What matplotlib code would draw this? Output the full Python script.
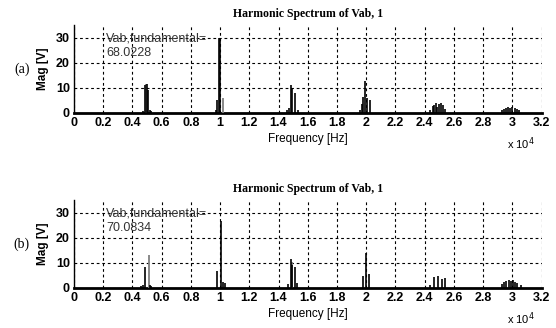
import numpy as np
import matplotlib.pyplot as plt

# harmonic spectrum, frequencies in Hz, magnitudes in V
freq_a = [4700, 4880, 5000, 5100, 5200, 5300, 9700, 9800, 9940, 10000,
          14600, 14700, 14840, 14950, 15110, 15300,
          19600, 19700, 19790, 19950, 20060, 20250,
          24400, 24550, 24650, 24750, 24850, 24950, 25100, 25250, 25400,
          29300, 29450, 29550, 29700, 29850, 30000, 30150, 30300, 30460]
mag_a = [0.6, 11.0, 11.5, 9.2, 1.0, 0.8, 1.0, 5.2, 29.9, 29.5,
         1.2, 1.8, 11.2, 9.9, 8.1, 1.0,
         1.2, 3.5, 6.5, 12.8, 6.0, 5.2,
         1.0, 2.8, 3.2, 3.8, 2.4, 3.5, 4.0, 3.0, 1.5,
         1.0, 1.6, 2.0, 2.4, 1.8, 2.2, 2.0, 1.5, 1.0]
grey_freq_a = [4950, 10210]
grey_mag_a = [11.6, 6.1]

freq_b = [4600, 4700, 4880, 5200, 5300, 9800, 10030, 10170, 10330,
          14660, 14840, 14950, 15110, 15270,
          19750, 19970, 20200,
          24400, 24650, 24930, 25220, 25400,
          29300, 29450, 29600, 29750, 29900, 30050, 30200, 30350, 30600]
mag_b = [0.8, 1.0, 8.5, 1.2, 0.8, 6.8, 26.9, 2.5, 2.0,
         1.5, 11.5, 9.2, 8.5, 2.0,
         4.9, 13.9, 5.6,
         1.2, 4.3, 4.9, 3.6, 4.0,
         1.5, 2.3, 2.6, 3.0, 2.8, 3.2, 2.4, 2.0, 1.2]
grey_freq_b = [5110, 14900]
grey_mag_b = [13.2, 10.5]

fundamental = ["68.0228", "70.0834"]
panel_tags = ["(a)", "(b)"]
xticks = [0, 0.2, 0.4, 0.6, 0.8, 1, 1.2, 1.4, 1.6, 1.8, 2, 2.2, 2.4, 2.6, 2.8, 3, 3.2]
xtick_labels = ["0", "0.2", "0.4", "0.6", "0.8", "1", "1.2", "1.4", "1.6", "1.8",
                "2", "2.2", "2.4", "2.6", "2.8", "3", "3.2"]
yticks = [0, 10, 20, 30]

fig = plt.figure(figsize=(5.56, 3.28), dpi=100)
plt.rcParams['font.family'] = ['Liberation Sans', 'DejaVu Sans']

panels = [(freq_a, mag_a, grey_freq_a, grey_mag_a, 0.6555),
          (freq_b, mag_b, grey_freq_b, grey_mag_b, 0.122)]

for i, (f, m, gf, gm, bottom) in enumerate(panels):
    ax = fig.add_axes([0.133, bottom, 0.841, 0.2668])
    ax.vlines(np.array(gf) / 1e4, 0, gm, color='#808080', lw=1.3, zorder=3)
    ax.vlines(np.array(f) / 1e4, 0, m, color='black', lw=1.2, zorder=4)
    ax.set_xlim(0, 3.2)
    ax.set_ylim(0, 35)
    ax.set_xticks(xticks)
    ax.set_xticklabels(xtick_labels)
    ax.set_yticks(yticks)
    ax.grid(True, color='black', linestyle=(0, (2.5, 2.5)), lw=0.8)
    ax.set_axisbelow(True)
    for s in ['top', 'right']:
        ax.spines[s].set_visible(False)
    ax.spines['bottom'].set_linewidth(2)
    ax.spines['left'].set_linewidth(1)
    ax.tick_params(length=0, pad=3, labelsize=9)
    for lab in ax.get_xticklabels() + ax.get_yticklabels():
        lab.set_fontweight('bold')
    ax.set_ylabel('Mag [V]', fontsize=8.5, fontweight='bold', labelpad=5)
    ax.set_xlabel('Frequency [Hz]', fontsize=8.5, labelpad=3)
    ax.set_title('Harmonic Spectrum of Vab, 1', fontsize=8.5, fontweight='bold',
                 family='Liberation Serif', pad=6)
    ax.text(0.22, 32.0, 'Vab,fundamental=\n' + fundamental[i], fontsize=9,
            color='#333333', va='top', ha='left', linespacing=1.25)
    ax.text(0.985, -0.35, r'x 10$^4$', transform=ax.transAxes, fontsize=8,
            ha='right', va='center')
    ax.text(-0.095, 0.5, panel_tags[i], transform=ax.transAxes, fontsize=10,
            family='Liberation Serif', ha='right', va='center')

fig.savefig('out.png', dpi=100)
